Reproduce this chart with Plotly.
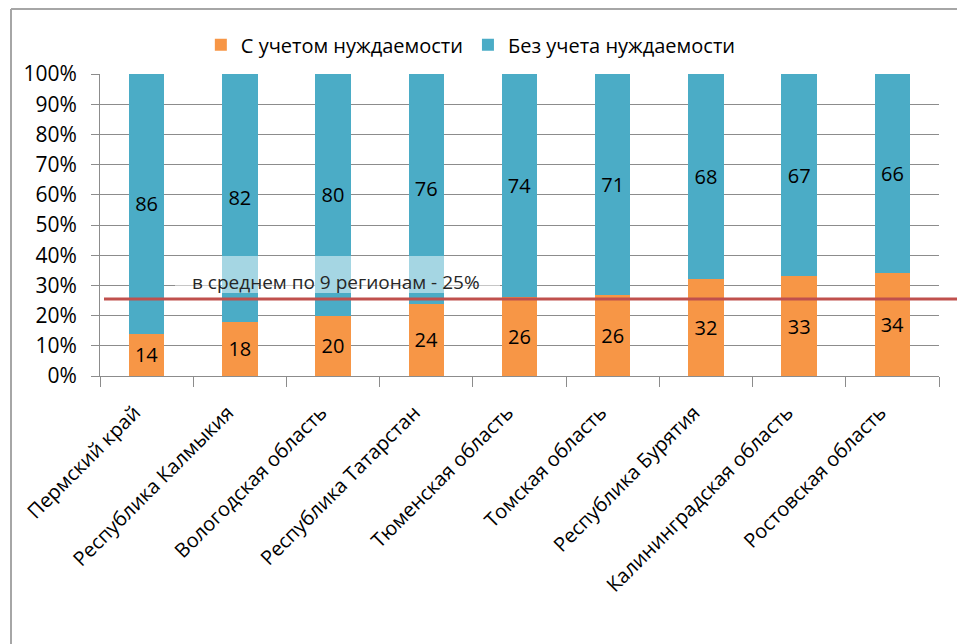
import plotly.graph_objects as go

regions = ["Пермский край", "Республика Калмыкия", "Вологодская область",
           "Республика Татарстан", "Тюменская область", "Томская область",
           "Республика Бурятия", "Калининградская область", "Ростовская область"]
with_need = [14, 18, 20, 24, 26, 26, 32, 33, 34]
without_need = [86, 82, 80, 76, 74, 71, 68, 67, 66]
series_names = ["С учетом нуждаемости", "Без учета нуждаемости"]
avg_level = 25.5
avg_label = "в среднем по 9 регионам - 25%"
y_ticks = list(range(0, 101, 10))

FONT = "Open Sans"
fig = go.Figure()
fig.add_trace(go.Bar(x=regions, y=with_need, name=series_names[0],
                     marker=dict(color="#F79646", line=dict(width=0)),
                     text=with_need, texttemplate="%{text}", textposition="inside",
                     insidetextanchor="middle", textangle=0,
                     textfont=dict(family=FONT, size=20, color="#000000")))
fig.add_trace(go.Bar(x=regions, y=without_need, name=series_names[1],
                     marker=dict(color="#4BACC6", line=dict(width=0)),
                     text=without_need, texttemplate="%{text}", textposition="inside",
                     insidetextanchor="middle", textangle=0,
                     textfont=dict(family=FONT, size=20, color="#000000")))

fig.update_layout(
    barmode="stack", barnorm="percent", bargap=0.62,
    width=957, height=644,
    margin=dict(l=100, r=18, t=74, b=268),
    paper_bgcolor="white", plot_bgcolor="white",
    font=dict(family=FONT, color="#000000"),
    legend=dict(orientation="h", x=0.442, xanchor="center", y=1.097, yanchor="middle",
                font=dict(family=FONT, size=20, color="#000000"),
                itemwidth=30, traceorder="normal"),
    uniformtext=dict(mode="show", minsize=10),
)
fig.update_yaxes(range=[0, 100], tickvals=y_ticks, ticktext=[f"{v}%" for v in y_ticks],
                 showgrid=True, gridcolor="#8C8C8C", gridwidth=1,
                 showline=True, linecolor="#8C8C8C", linewidth=1,
                 ticks="outside", ticklen=8, tickcolor="#8C8C8C",
                 ticklabelstandoff=10,
                 tickfont=dict(family=FONT, size=21, color="#000000"),
                 zeroline=False)
fig.update_xaxes(tickangle=-45, tickson="boundaries", ticks="outside", ticklen=10,
                 tickcolor="#8C8C8C", showline=True, linecolor="#8C8C8C", linewidth=1,
                 ticklabelshift=-12, ticklabelstandoff=16,
                 tickfont=dict(family=FONT, size=20, color="#000000"))

# outer chart frame (partially visible)
fig.add_shape(type="line", xref="paper", yref="paper",
              x0=-89/839, x1=1.03, y0=(376-9)/302, y1=(376-9)/302,
              line=dict(color="#A6A6A6", width=2))
fig.add_shape(type="line", xref="paper", yref="paper",
              x0=-89/839, x1=-89/839, y0=(376-9)/302, y1=-0.9,
              line=dict(color="#A6A6A6", width=2))

# average line
fig.add_shape(type="line", xref="paper", yref="y", x0=4/839, x1=1.03,
              y0=avg_level, y1=avg_level, line=dict(color="#C0504D", width=3), layer="above")
# semi-transparent label box
fig.add_shape(type="rect", xref="paper", yref="paper",
              x0=75/839, x1=400/839, y0=(376-293)/302, y1=(376-256)/302,
              fillcolor="rgba(255,255,255,0.5)", line=dict(width=0), layer="above")
fig.add_annotation(xref="paper", yref="paper", x=236/839, y=(376-282)/302,
                   xanchor="center", yanchor="middle",
                   text=avg_label, showarrow=False,
                   font=dict(family=FONT, size=19, color="#262626"))

fig.write_html("out.html")
